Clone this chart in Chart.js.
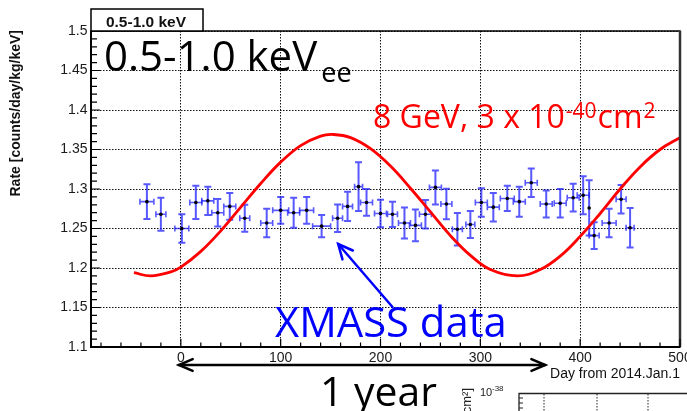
<!DOCTYPE html>
<html><head><meta charset="utf-8">
<script src="https://cdn.jsdelivr.net/npm/chart.js@4/dist/chart.umd.min.js"></script>
<style>html,body{margin:0;padding:0;background:#fff;overflow:hidden}#wrap{position:relative;width:687px;height:411px}canvas{display:block}</style>
</head><body><div id="wrap"><canvas id="c" width="687" height="411"></canvas></div>
<script>
// ---- data ----
const days    = [-34, -20, 1, 15, 27, 37, 49, 64, 86, 100, 113, 126, 141, 157, 167, 178, 186, 200, 212, 224, 235, 245, 255, 266, 277, 290, 301, 313, 327, 339, 351, 366, 380, 393, 403, 409, 414, 429, 441, 450];
const rates   = [1.284, 1.268, 1.250, 1.283, 1.285, 1.270, 1.278, 1.263, 1.257, 1.273, 1.270, 1.273, 1.253, 1.263, 1.278, 1.303, 1.283, 1.269, 1.268, 1.257, 1.254, 1.268, 1.302, 1.281, 1.249, 1.255, 1.283, 1.277, 1.288, 1.284, 1.308, 1.281, 1.282, 1.289, 1.292, 1.276, 1.241, 1.257, 1.287, 1.251];
const rateErr = [0.022, 0.021, 0.018, 0.021, 0.018, 0.0175, 0.017, 0.017, 0.018, 0.017, 0.019, 0.017, 0.014, 0.0175, 0.0186, 0.031, 0.017, 0.0175, 0.016, 0.0196, 0.020, 0.018, 0.0215, 0.0194, 0.0205, 0.017, 0.018, 0.018, 0.016, 0.019, 0.018, 0.017, 0.018, 0.0175, 0.024, 0.035, 0.017, 0.018, 0.018, 0.025];
const dayErr  = [7, 5, 7, 6, 6, 6, 6, 5, 6, 8, 6, 7, 9, 5, 5, 4, 6, 6, 5, 6, 6, 6, 6, 5.5, 5, 4.5, 6, 6, 7, 6, 6, 6, 6, 6, 6, 0, 5, 7, 5, 4];
const modelDays  = [-47, -30, -10, 0, 20, 40, 60, 80, 100, 120, 140, 153, 170, 190, 210, 230, 250, 270, 290, 310, 337, 360, 380, 400, 420, 440, 460, 480, 500];
const modelRates = [1.194, 1.190, 1.195, 1.201, 1.221, 1.247, 1.277, 1.307, 1.334, 1.355, 1.367, 1.369, 1.365, 1.351, 1.329, 1.301, 1.271, 1.241, 1.216, 1.198, 1.190, 1.198, 1.215, 1.240, 1.269, 1.300, 1.328, 1.350, 1.365];
const xTicks = [0, 100, 200, 300, 400, 500];
const xTickLabels = ['0', '100', '200', '300', '400', '500'];
const yTicks = [1.1, 1.15, 1.2, 1.25, 1.3, 1.35, 1.4, 1.45, 1.5];
const yTickLabels = ['1.1', '1.15', '1.2', '1.25', '1.3', '1.35', '1.4', '1.45', '1.5'];
const xRange = [-90, 500];
const yRange = [1.1, 1.5];
const xMinorStep = 20, yMinorStep = 0.01;
const yearArrowDays = [0, 365];
const dataArrow = {tail: [212, 1.1506], tip: [157.6, 1.2304]};
const xTitle = 'Day from 2014.Jan.1';
const yTitle = 'Rate [counts/day/kg/keV]';
const boxLabel = '0.5-1.0 keV';

const AX = '"Liberation Sans", Arial, sans-serif';
const BIG = '"Open Sans", "Noto Sans", sans-serif';

function arrowHead(ctx, x1, y1, x2, y2, len, spread) {
  const a = Math.atan2(y2 - y1, x2 - x1);
  ctx.beginPath();
  ctx.moveTo(x2 - len * Math.cos(a - spread), y2 - len * Math.sin(a - spread));
  ctx.lineTo(x2, y2);
  ctx.lineTo(x2 - len * Math.cos(a + spread), y2 - len * Math.sin(a + spread));
  ctx.stroke();
}
function fitFont(ctx, text, weight, family, target) {
  ctx.font = weight + ' 100px ' + family;
  return 100 * target / ctx.measureText(text).width;
}

const annot = {
  id: 'annot',
  beforeDatasetsDraw(chart) {
    const ctx = chart.ctx, xs = chart.scales.x, ys = chart.scales.y;
    ctx.save();
    ctx.strokeStyle = 'rgba(30,30,255,0.74)';
    for (let i = 0; i < days.length; i++) {
      const px = xs.getPixelForValue(days[i]);
      const py = ys.getPixelForValue(rates[i]);
      const t = ys.getPixelForValue(rates[i] + rateErr[i]);
      const b = ys.getPixelForValue(rates[i] - rateErr[i]);
      ctx.lineWidth = 2;
      ctx.beginPath();
      ctx.moveTo(px, t); ctx.lineTo(px, b);
      ctx.moveTo(px - 3.5, t); ctx.lineTo(px + 3.5, t);
      ctx.moveTo(px - 3.5, b); ctx.lineTo(px + 3.5, b);
      ctx.stroke();
      if (dayErr[i] > 0) {
        const l = xs.getPixelForValue(days[i] - dayErr[i]);
        const r = xs.getPixelForValue(days[i] + dayErr[i]);
        ctx.lineWidth = 1.6;
        ctx.beginPath();
        ctx.moveTo(l, py); ctx.lineTo(r, py);
        ctx.moveTo(l, py - 3); ctx.lineTo(l, py + 3);
        ctx.moveTo(r, py - 3); ctx.lineTo(r, py + 3);
        ctx.stroke();
      }
    }
    ctx.restore();
  },
  afterDraw(chart) {
    const ctx = chart.ctx, xs = chart.scales.x, ys = chart.scales.y, ca = chart.chartArea;
    ctx.save();
    // frame
    ctx.strokeStyle = '#000';
    ctx.lineWidth = 1.5;
    ctx.strokeRect(ca.left, ca.top, ca.right - ca.left, ca.bottom - ca.top);
    ctx.strokeStyle = '#333';
    ctx.lineWidth = 2.5;
    ctx.beginPath(); ctx.moveTo(ca.right, ca.top); ctx.lineTo(ca.right, ca.bottom); ctx.stroke();
    ctx.strokeStyle = '#000';
    ctx.lineWidth = 2;
    ctx.beginPath(); ctx.moveTo(ca.left, ca.top); ctx.lineTo(ca.left, ca.bottom); ctx.lineTo(ca.right, ca.bottom); ctx.stroke();
    // inner ticks
    ctx.lineWidth = 1.2;
    ctx.beginPath();
    for (let k = 0; ; k++) {
      const v = yRange[0] + k * yMinorStep;
      if (v > yRange[1] + 1e-9) break;
      const major = (k % 5) === 0;
      const py = ys.getPixelForValue(v);
      ctx.moveTo(ca.left, py); ctx.lineTo(ca.left + (major ? 9 : 6), py);
    }
    for (let v = Math.ceil(xRange[0] / xMinorStep) * xMinorStep; v <= xRange[1]; v += xMinorStep) {
      const major = (v % 100) === 0;
      const px = xs.getPixelForValue(v);
      ctx.moveTo(px, ca.bottom); ctx.lineTo(px, ca.bottom - (major ? 8 : 4.5));
    }
    ctx.stroke();

    // axis titles
    ctx.fillStyle = '#111';
    ctx.font = '14px ' + AX;
    ctx.textAlign = 'right'; ctx.textBaseline = 'alphabetic';
    ctx.fillText(xTitle, ca.right, 378);
    ctx.save();
    ctx.translate(19.5, ca.top - 1);
    ctx.rotate(-Math.PI / 2);
    ctx.font = 'bold 14px ' + AX;
    ctx.textAlign = 'right';
    ctx.fillText(yTitle, 0, 0);
    ctx.restore();

    // top-left box label
    ctx.fillStyle = '#fff';
    ctx.fillRect(ca.left, 9, 112, ca.top - 9);
    ctx.strokeStyle = '#000'; ctx.lineWidth = 1.5;
    ctx.strokeRect(ca.left, 9, 112, ca.top - 9);
    ctx.fillStyle = '#111';
    ctx.font = 'bold 15.5px ' + AX;
    ctx.textAlign = 'center';
    ctx.fillText(boxLabel, ca.left + 55, 26.5);

    // big black label
    ctx.textAlign = 'left';
    ctx.fillStyle = '#000';
    let s = fitFont(ctx, '0.5-1.0 keV', '', BIG, 213);
    ctx.font = s.toFixed(1) + 'px ' + BIG;
    ctx.fillText('0.5-1.0 keV', 104, 70.5);
    let w = ctx.measureText('0.5-1.0 keV').width;
    ctx.font = '27px ' + BIG;
    ctx.fillText('ee', 104 + w + 4, 81.5);

    // red label
    ctx.fillStyle = '#ff0000';
    let x = 373;
    const rb = 128;
    ctx.font = '32px ' + BIG;
    ctx.fillText('8 GeV, 3 x 10', x, rb); x += ctx.measureText('8 GeV, 3 x 10').width + 1;
    ctx.font = '21px ' + BIG;
    ctx.fillText('-40', x, rb - 10); x += ctx.measureText('-40').width + 1;
    ctx.font = '32px ' + BIG;
    ctx.fillText('cm', x, rb); x += ctx.measureText('cm').width + 1;
    ctx.font = '21px ' + BIG;
    ctx.fillText('2', x, rb - 10);

    // blue label + arrow
    ctx.fillStyle = '#0000ff';
    s = fitFont(ctx, 'XMASS data', '', BIG, 232);
    ctx.font = s.toFixed(1) + 'px ' + BIG;
    ctx.fillText('XMASS data', 275, 337);
    const tx = xs.getPixelForValue(dataArrow.tail[0]), ty = ys.getPixelForValue(dataArrow.tail[1]);
    const hx = xs.getPixelForValue(dataArrow.tip[0]), hy = ys.getPixelForValue(dataArrow.tip[1]);
    ctx.strokeStyle = '#0000ff'; ctx.lineWidth = 2.5; ctx.lineCap = 'round';
    ctx.beginPath(); ctx.moveTo(tx, ty); ctx.lineTo(hx, hy); ctx.stroke();
    arrowHead(ctx, tx, ty, hx, hy, 16, 0.44);

    // one-year double arrow
    const a0 = xs.getPixelForValue(yearArrowDays[0]) - 2, a1 = xs.getPixelForValue(yearArrowDays[1]);
    ctx.strokeStyle = '#000'; ctx.lineWidth = 2.5;
    ctx.beginPath(); ctx.moveTo(a0, 365); ctx.lineTo(a1, 365); ctx.stroke();
    arrowHead(ctx, a1, 365, a0, 365, 15, 0.4);
    arrowHead(ctx, a0, 365, a1, 365, 15, 0.4);
    ctx.fillStyle = '#000';
    s = fitFont(ctx, '1 year', '', BIG, 117);
    ctx.font = s.toFixed(1) + 'px ' + BIG;
    ctx.fillText('1 year', 320, 406);

    // partial neighbouring plot at the bottom right
    ctx.strokeStyle = '#222'; ctx.lineWidth = 1.3; ctx.lineCap = 'butt';
    ctx.beginPath(); ctx.moveTo(700, 393.5); ctx.lineTo(519, 393.5); ctx.lineTo(519, 420); ctx.stroke();
    ctx.lineWidth = 1;
    ctx.beginPath();
    [398, 403, 408].forEach(yy => { ctx.moveTo(519, yy); ctx.lineTo(523, yy); });
    ctx.stroke();
    ctx.setLineDash([1.5, 1.5]);
    ctx.beginPath();
    [544, 597, 648].forEach(xx => { ctx.moveTo(xx, 394); ctx.lineTo(xx, 411); });
    ctx.stroke();
    ctx.setLineDash([]);
    ctx.fillStyle = '#222';
    ctx.font = '11px ' + AX;
    ctx.fillText('10', 480, 396);
    ctx.font = '8px ' + AX;
    ctx.fillText('-38', 492, 391);
    ctx.save();
    ctx.translate(471, 388);
    ctx.rotate(-Math.PI / 2);
    ctx.font = '13px ' + AX;
    ctx.textAlign = 'right';
    ctx.fillText('[cm\u00B2]', 0, 0);
    ctx.restore();
    ctx.restore();
  }
};

new Chart(document.getElementById('c'), {
  type: 'scatter',
  data: {
    datasets: [
      { label: 'model', data: modelDays.map((d, i) => ({x: d, y: modelRates[i]})), showLine: true,
        borderColor: '#ff0000', borderWidth: 2.8, pointRadius: 0, tension: 0.4, fill: false },
      { label: 'XMASS', data: days.map((d, i) => ({x: d, y: rates[i]})), showLine: false,
        pointRadius: 1.8, pointBackgroundColor: '#000', pointBorderWidth: 0, pointBorderColor: '#000' }
    ]
  },
  options: {
    responsive: false, animation: false, devicePixelRatio: 1, events: [],
    layout: {padding: {top: 31, right: 7, left: 0, bottom: 0}},
    plugins: {legend: {display: false}, tooltip: {enabled: false}},
    scales: {
      x: {
        type: 'linear', min: xRange[0], max: xRange[1],
        afterBuildTicks: s => { s.ticks = xTicks.map(v => ({value: v})); },
        afterFit: s => { s.height = 64; s.paddingLeft = 0; s.paddingRight = 0; },
        ticks: {callback: (v, i) => xTickLabels[i], font: {family: AX, size: 14}, color: '#1a1a1a', padding: 3, maxRotation: 0, autoSkip: false},
        grid: {color: '#111', lineWidth: 1, drawTicks: false},
        border: {display: false, dash: [1.5, 1.5]}
      },
      y: {
        type: 'linear', min: yRange[0], max: yRange[1],
        afterBuildTicks: s => { s.ticks = yTicks.map(v => ({value: v})); },
        afterFit: s => { s.width = 91; s.paddingTop = 0; s.paddingBottom = 0; },
        ticks: {callback: (v, i) => yTickLabels[i], font: {family: AX, size: 14}, color: '#1a1a1a', padding: 3.5, autoSkip: false},
        grid: {color: '#111', lineWidth: 1, drawTicks: false},
        border: {display: false, dash: [1.5, 1.5]}
      }
    }
  },
  plugins: [annot]
});
</script>
</body></html>
